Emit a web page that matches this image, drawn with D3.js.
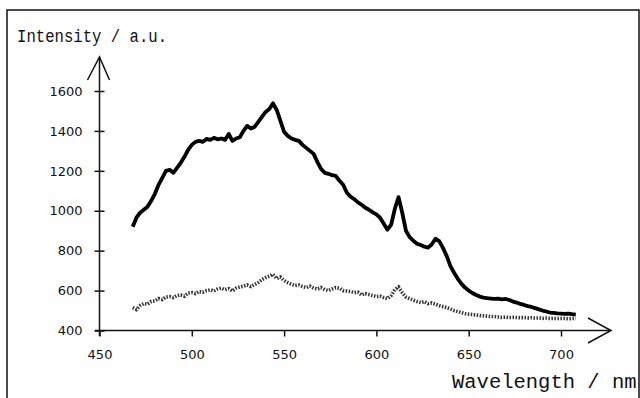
<!DOCTYPE html>
<html><head><meta charset="utf-8">
<script src="https://cdn.jsdelivr.net/npm/d3@7"></script>
<style>body{margin:0;background:#fff}svg{display:block}</style>
</head><body>
<script>
const wavelengths = [468,470,472,474,476,478,480,482,484,486,488,490,492,494,496,498,500,502,504,506,508,510,512,514,516,518,520,522,524,526,528,530,532,534,536,538,540,542,544,546,548,550,552,554,556,558,560,562,564,566,568,570,572,574,576,578,580,582,584,586,588,590,592,594,596,598,600,602,604,606,608,610,612,614,616,618,620,622,624,626,628,630,632,634,636,638,640,642,644,646,648,650,652,654,656,658,660,662,664,666,668,670,672,674,676,678,680,682,684,686,688,690,692,694,696,698,700,702,704,706,708];
const solidSeries = [920,965,990,1005,1020,1050,1085,1130,1165,1200,1205,1190,1215,1240,1270,1305,1330,1345,1350,1345,1360,1355,1365,1358,1362,1355,1385,1350,1362,1368,1400,1425,1412,1420,1445,1470,1495,1510,1538,1505,1450,1395,1375,1362,1355,1350,1330,1315,1300,1285,1245,1210,1190,1185,1178,1175,1150,1130,1090,1070,1058,1042,1030,1015,1005,992,982,965,935,905,930,1010,1068,990,900,868,850,835,828,820,815,832,860,848,815,775,725,690,660,635,615,600,588,578,570,565,562,560,558,560,556,558,553,545,540,533,528,522,518,512,506,500,495,490,488,486,485,483,485,482,480];
const dottedSeries = [515,505,525,535,532,545,548,560,555,568,570,565,575,578,572,588,590,585,595,592,600,604,598,608,612,605,610,598,612,618,622,628,620,630,640,655,665,672,682,660,668,650,640,632,625,628,620,615,622,612,608,615,605,600,608,615,612,600,598,595,590,592,578,585,580,575,570,572,565,560,575,605,618,590,568,560,552,545,540,545,535,538,532,525,520,515,508,500,495,490,485,482,480,478,475,474,472,470,470,468,466,467,465,466,465,464,465,463,464,462,463,461,462,460,461,460,460,460,459,460,460];
const xTicks = [450,500,550,600,650,700];
const yTicks = [400,600,800,1000,1200,1400,1600];
const yTitle = "Intensity / a.u.";
const xTitle = "Wavelength / nm";

const W = 640, H = 398;
const svg = d3.select("body").append("svg").attr("width", W).attr("height", H);

// frame
svg.append("path").attr("d", "M7,400V10H639V400").attr("fill","none").attr("stroke","#111").attr("stroke-width",1.5);

const x = d3.scaleLinear().domain([450,700]).range([99.5,561]);
const y = d3.scaleLinear().domain([400,1600]).range([330.5,91]);

const ink = "#111";
svg.append("line").attr("x1",95).attr("x2",611).attr("y1",y(400)).attr("y2",y(400)).attr("stroke",ink).attr("stroke-width",1.5);
svg.append("line").attr("x1",x(450)).attr("x2",x(450)).attr("y1",336).attr("y2",57).attr("stroke",ink).attr("stroke-width",1.5);
svg.append("path").attr("d",`M${x(450)-12},80L${x(450)},57L${x(450)+10},80`).attr("fill","none").attr("stroke",ink).attr("stroke-width",1.5);
svg.append("path").attr("d",`M588,318L611,${y(400)}L588,343`).attr("fill","none").attr("stroke",ink).attr("stroke-width",1.5);

const xAxis = d3.axisBottom(x).tickValues(xTicks).tickSize(6).tickPadding(13).tickFormat(d3.format("d"));
const gx = svg.append("g").attr("transform",`translate(0,${y(400)})`).call(xAxis);
gx.select(".domain").remove();
gx.selectAll("line").attr("stroke",ink).attr("stroke-width",1.5);
gx.selectAll("text").attr("font-family","DejaVu Sans, sans-serif").attr("font-size",13).attr("fill",ink);

const yAxis = d3.axisLeft(y).tickValues(yTicks).tickSize(5).tickPadding(12).tickFormat(d3.format("d"));
const gy = svg.append("g").attr("transform",`translate(${x(450)},0)`).call(yAxis);
gy.select(".domain").remove();
gy.selectAll("line").attr("x2",5).attr("x1",-5).attr("stroke",ink).attr("stroke-width",1.5);
gy.selectAll("text").attr("font-family","DejaVu Sans, sans-serif").attr("font-size",13).attr("fill",ink);

svg.append("text").attr("x",17).attr("y",42).attr("font-family","Liberation Mono, monospace").attr("font-size",18)
  .attr("textLength",150).attr("lengthAdjust","spacingAndGlyphs").attr("fill",ink).text(yTitle);
svg.append("text").attr("x",452).attr("y",388).attr("font-family","Liberation Mono, monospace").attr("font-size",20.5)
  .attr("fill",ink).text(xTitle);

const line = d3.line().x((d,i)=>x(wavelengths[i])).y(d=>y(d));
svg.append("path").datum(dottedSeries).attr("d",line).attr("fill","none").attr("stroke","#333")
  .attr("stroke-width",3.6).attr("stroke-dasharray","1.5,1.5");
svg.append("path").datum(solidSeries).attr("d",line).attr("fill","none").attr("stroke","#000")
  .attr("stroke-width",3.8).attr("stroke-linejoin","round");
</script>
</body></html>
